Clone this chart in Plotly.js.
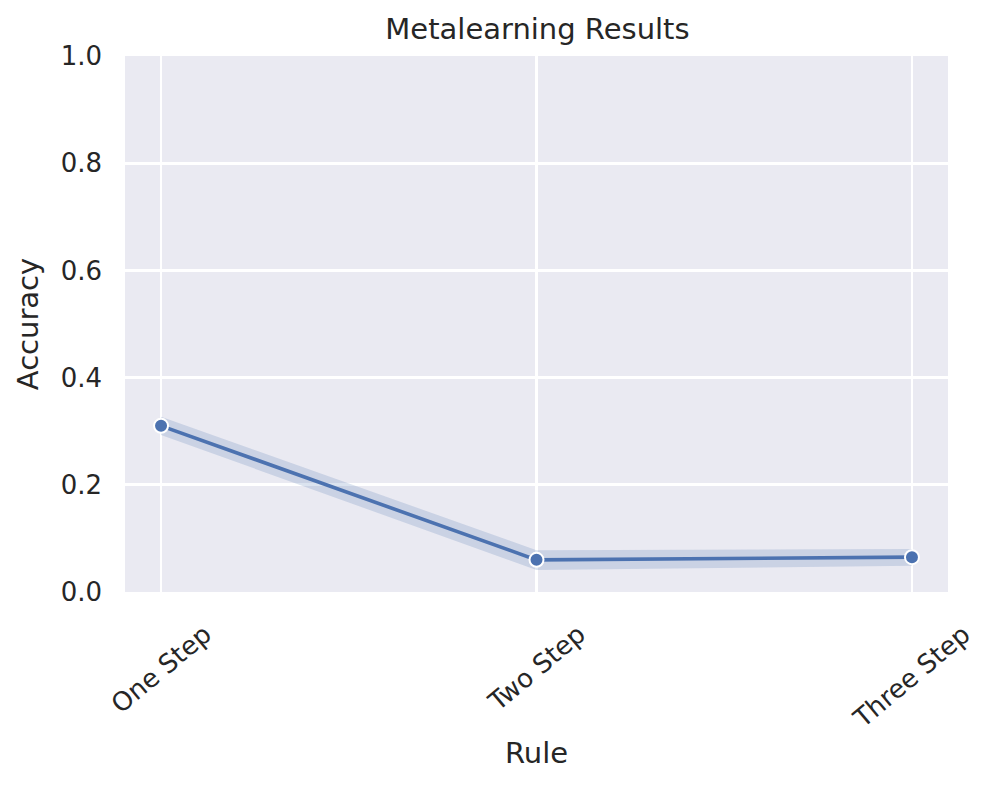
<!DOCTYPE html>
<html>
<head>
<meta charset="utf-8">
<script src="https://cdn.plot.ly/plotly-3.0.1.min.js"></script>
<style>html,body{margin:0;padding:0;background:#fff;}#chart{width:997px;height:788px;}</style>
</head>
<body>
<div id="chart"></div>
<script>
const categories = ['One Step', 'Two Step', 'Three Step'];
const accuracy = [0.31, 0.06, 0.065];
const ciLow = [0.293, 0.041, 0.049];
const ciHigh = [0.327, 0.078, 0.080];
const yTicks = [0, 0.2, 0.4, 0.6, 0.8, 1.0];
const yTickText = ['0.0', '0.2', '0.4', '0.6', '0.8', '1.0'];

const blue = '#4C72B0';
const textColor = '#262626';
const font = 'DejaVu Sans, sans-serif';

const traces = [
  {x: categories, y: ciLow, mode: 'lines', line: {width: 0, color: blue}, hoverinfo: 'skip', showlegend: false},
  {x: categories, y: ciHigh, mode: 'lines', line: {width: 0, color: blue}, fill: 'tonexty', fillcolor: 'rgba(76,114,176,0.2)', hoverinfo: 'skip', showlegend: false},
  {x: categories, y: accuracy, mode: 'lines+markers', line: {width: 3.6, color: blue},
   marker: {size: 14, color: blue, line: {color: '#ffffff', width: 2}}, showlegend: false}
];

const annotations = categories.map(c => ({
  x: c, xref: 'x', y: -0.045, yref: 'paper', text: c, showarrow: false,
  textangle: -40, xanchor: 'center', yanchor: 'top',
  font: {family: font, size: 26, color: textColor}
}));

const layout = {
  width: 997, height: 788,
  margin: {l: 125, r: 49, t: 56, b: 196},
  paper_bgcolor: '#ffffff', plot_bgcolor: '#EAEAF2',
  font: {family: font, color: textColor},
  title: {text: 'Metalearning Results', font: {family: font, size: 29, color: textColor},
          x: 0.5391, xanchor: 'center', y: 1 - 29/788, yref: 'container', yanchor: 'middle'},
  xaxis: {type: 'category', range: [-0.096, 2.096], showgrid: true, gridcolor: '#ffffff', gridwidth: 2.6,
          zeroline: false, showline: false, ticks: '', showticklabels: false,
          title: {text: 'Rule', font: {family: font, size: 29, color: textColor}, standoff: 150}},
  yaxis: {range: [0, 1], tickvals: yTicks, ticktext: yTickText, showgrid: true, gridcolor: '#ffffff', gridwidth: 2.6,
          zeroline: false, showline: false, ticks: '', ticklabelstandoff: 22,
          tickfont: {family: font, size: 26, color: textColor},
          title: {text: 'Accuracy', font: {family: font, size: 29, color: textColor}, standoff: 13}},
  annotations: annotations
};

Plotly.newPlot('chart', traces, layout, {displayModeBar: false, staticPlot: true});
</script>
</body>
</html>
